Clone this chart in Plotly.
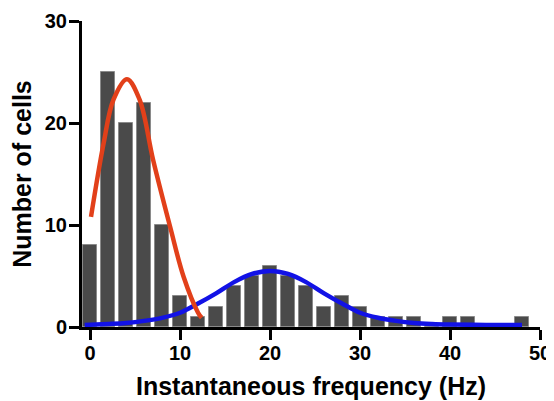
import plotly.graph_objects as go

# Histogram bins (centres, Hz) and counts
bin_centers = [0, 2, 4, 6, 8, 10, 12, 14, 16, 18, 20, 22, 24, 26, 28, 30, 32, 34, 36, 38, 40, 42, 44, 46, 48]
counts = [8, 25, 20, 22, 10, 3, 1, 2, 4, 5, 6, 5, 4, 2, 3, 2, 1, 1, 1, 0, 1, 1, 0, 0, 1]

# Red fitted curve
red_x = [0.1, 1.5, 2.6, 4.1, 5.5, 7.0, 8.9, 10.4, 12.0, 12.4]
red_y = [10.8, 18.0, 22.3, 24.3, 22.3, 16.4, 9.8, 4.9, 1.4, 0.9]

# Blue fitted curve
blue_x = [-0.6, 2, 4, 6, 8, 10, 12, 14, 16, 18, 20, 22, 24, 26, 28, 30, 32, 34, 36, 38, 40, 44, 48]
blue_y = [0.2, 0.3, 0.4, 0.6, 0.9, 1.4, 2.3, 3.3, 4.4, 5.2, 5.5, 5.2, 4.4, 3.3, 2.3, 1.4, 0.9, 0.6, 0.4, 0.3, 0.25, 0.2, 0.2]

x_ticks = [0, 10, 20, 30, 40, 50]
y_ticks = [0, 10, 20, 30]

font_family = "Liberation Sans, Arial, sans-serif"

fig = go.Figure()
fig.add_trace(go.Bar(
    x=bin_centers, y=counts, width=1.6,
    marker=dict(color="#4a4a4a", line=dict(color="#8a8a8a", width=1)),
))
fig.add_trace(go.Scatter(
    x=blue_x, y=blue_y, mode="lines", line=dict(color="#1212E6", width=4.5, shape="spline"),
))
fig.add_trace(go.Scatter(
    x=red_x, y=red_y, mode="lines", line=dict(color="#E2401A", width=4.5, shape="spline"),
))

# page body has an 8px margin, so the figure is sized/offset to compensate
fig.update_layout(
    width=546, height=393,
    margin=dict(l=74, r=14, t=13, b=74, autoexpand=False),
    paper_bgcolor="white", plot_bgcolor="white",
    showlegend=False,
    font=dict(family=font_family, color="black"),
    bargap=0,
)
fig.update_xaxes(
    automargin=False,
    range=[-0.9, 50], tickvals=x_ticks, ticktext=[str(v) for v in x_ticks],
    showgrid=False, zeroline=False, showline=True, linecolor="black", linewidth=3,
    ticks="outside", ticklen=10, tickwidth=3, tickcolor="black",
    ticklabelstandoff=-4,
    tickfont=dict(size=20, family=font_family, weight="bold"),
    title=dict(text="<b>Instantaneous frequency (Hz)</b>", font=dict(size=25, family=font_family), standoff=15),
)
fig.update_yaxes(
    automargin=False,
    range=[0, 30], tickvals=y_ticks, ticktext=[str(v) for v in y_ticks],
    showgrid=False, zeroline=False, showline=True, linecolor="black", linewidth=3,
    ticks="outside", ticklen=10, tickwidth=3, tickcolor="black",
    ticklabelstandoff=-2,
    tickfont=dict(size=20, family=font_family, weight="bold"),
    title=dict(text="<b>Number of cells</b>", font=dict(size=25, family=font_family), standoff=10),
)

fig.write_html("out.html")
